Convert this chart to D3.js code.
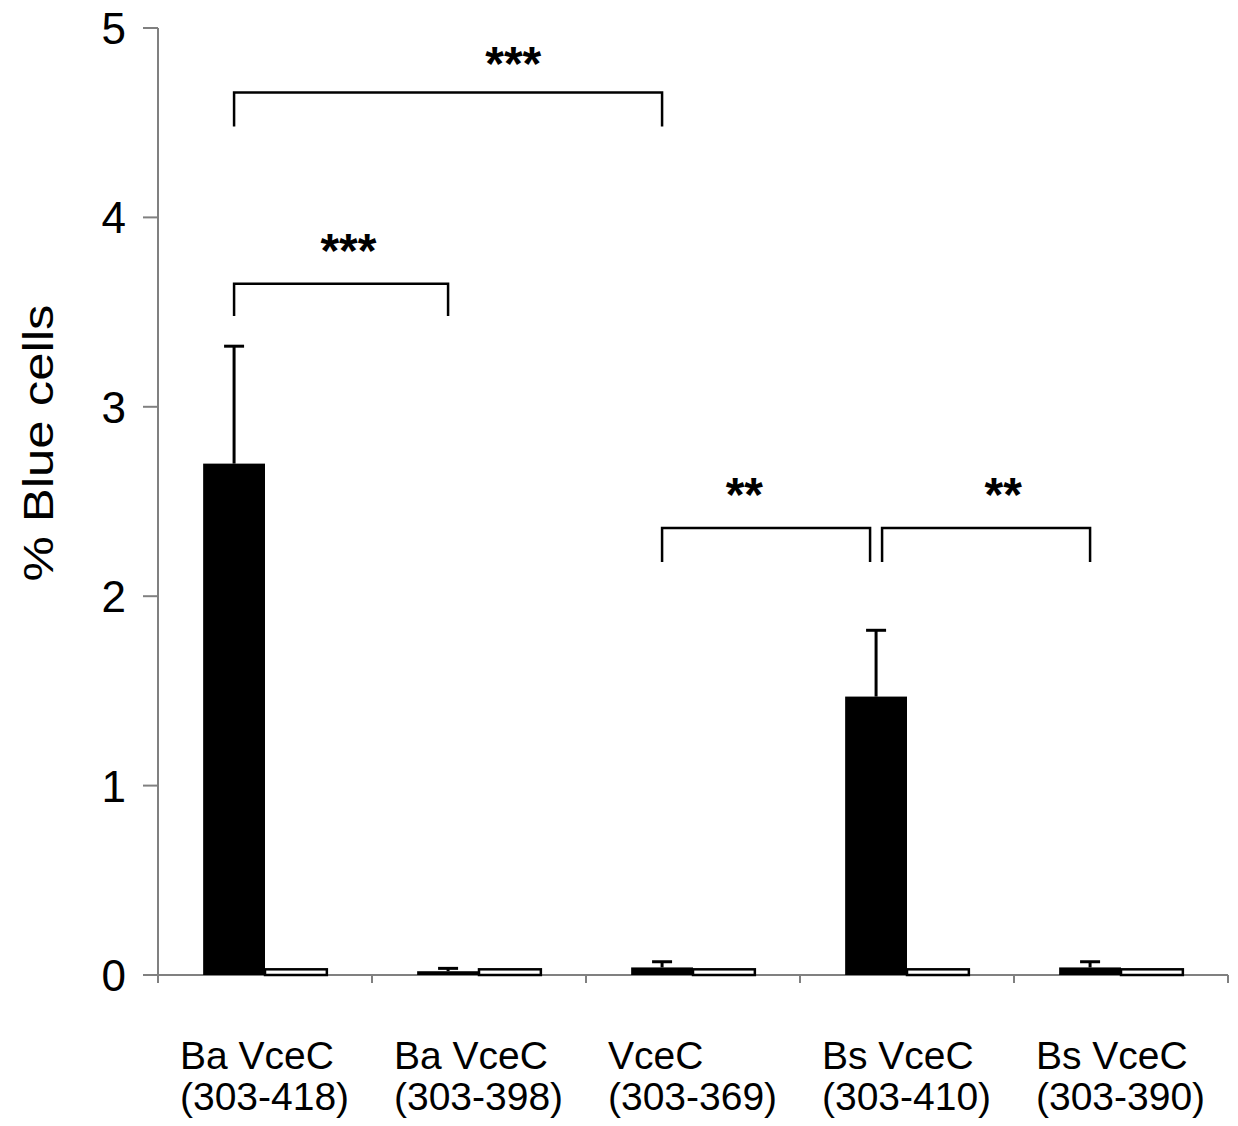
<!DOCTYPE html>
<html>
<head>
<meta charset="utf-8">
<script src="https://cdn.jsdelivr.net/npm/d3@7"></script>
<style>
  body { margin: 0; background: #fff; }
  text { font-family: "Liberation Sans", Arial, sans-serif; }
</style>
</head>
<body>
<script>
// categories (two label lines each)
var line1 = ["Ba VceC", "Ba VceC", "VceC", "Bs VceC", "Bs VceC"];
var line2 = ["(303-418)", "(303-398)", "(303-369)", "(303-410)", "(303-390)"];

// series values (% blue cells)
var blackVals = [2.70, 0.02, 0.04, 1.47, 0.04];
var blackErr  = [0.62, 0.015, 0.03, 0.35, 0.03];
var whiteVals = [0.03, 0.03, 0.03, 0.03, 0.03];

var yTicks = [0, 1, 2, 3, 4, 5];

// significance brackets: from/to category index, top and leg-end values
var brFrom  = [0, 0, 2, 3];
var brTo    = [2, 1, 3, 4];
var brTop   = [4.66, 3.65, 2.36, 2.36];
var brLeg   = [4.48, 3.48, 2.18, 2.18];
// stars: label, position in category index units, value
var starText = ["***", "***", "**", "**"];
var starPos  = [1.16, 0.39, 2.24, 3.45];
var starVal  = [4.87, 3.88, 2.59, 2.59];

var w = 1238, h = 1126;
var mLeft = 158, mRight = 1228, mTop = 28, mBottom = 975;

var svg = d3.select("body").append("svg")
    .attr("width", w)
    .attr("height", h);

var x = d3.scaleBand()
    .domain(d3.range(line1.length))
    .range([mLeft, mRight])
    .padding(0);

var xi = d3.scaleLinear()
    .domain([-0.5, line1.length - 0.5])
    .range([mLeft, mRight]);

var inner = d3.scaleBand()
    .domain(["black", "white"])
    .range([0, x.bandwidth()])
    .paddingInner(0)
    .paddingOuter(0.73);

var y = d3.scaleLinear()
    .domain([0, 5])
    .range([mBottom, mTop]);

// axes
var axisColor = "#808080";
svg.append("line")
    .attr("x1", mLeft).attr("x2", mLeft)
    .attr("y1", mTop).attr("y2", mBottom + 8)
    .attr("stroke", axisColor).attr("stroke-width", 2);
svg.append("line")
    .attr("x1", mLeft).attr("x2", mRight)
    .attr("y1", mBottom).attr("y2", mBottom)
    .attr("stroke", axisColor).attr("stroke-width", 2);

svg.selectAll(".ytick")
    .data(yTicks)
    .enter()
    .append("line")
    .attr("x1", mLeft - 15).attr("x2", mLeft)
    .attr("y1", function(d) { return y(d); })
    .attr("y2", function(d) { return y(d); })
    .attr("stroke", axisColor).attr("stroke-width", 2);

svg.selectAll(".ylab")
    .data(yTicks)
    .enter()
    .append("text")
    .text(function(d) { return d; })
    .attr("x", 126)
    .attr("y", function(d) { return y(d) + 16; })
    .attr("text-anchor", "end")
    .attr("font-size", "44px")
    .attr("fill", "#000");

svg.selectAll(".xtick")
    .data(d3.range(line1.length + 1))
    .enter()
    .append("line")
    .attr("x1", function(d) { return mLeft + d * x.step(); })
    .attr("x2", function(d) { return mLeft + d * x.step(); })
    .attr("y1", mBottom).attr("y2", mBottom + 8)
    .attr("stroke", axisColor).attr("stroke-width", 2);

// y axis title
svg.append("text")
    .text("%  Blue cells")
    .attr("transform", "translate(53,443) rotate(-90)")
    .attr("text-anchor", "middle")
    .attr("font-size", "42px")
    .attr("textLength", 277)
    .attr("lengthAdjust", "spacingAndGlyphs")
    .attr("fill", "#000");

// bars
svg.selectAll(".white")
    .data(whiteVals)
    .enter()
    .append("rect")
    .attr("x", function(d, i) { return x(i) + inner("white"); })
    .attr("y", function(d) { return y(d); })
    .attr("width", inner.bandwidth())
    .attr("height", function(d) { return mBottom - y(d); })
    .attr("fill", "#fff")
    .attr("stroke", "#000")
    .attr("stroke-width", 2.5);

// error bars (upper only)
function blackCenter(i) { return x(i) + inner("black") + inner.bandwidth() / 2; }

svg.selectAll(".err")
    .data(blackVals)
    .enter()
    .append("line")
    .attr("x1", function(d, i) { return blackCenter(i); })
    .attr("x2", function(d, i) { return blackCenter(i); })
    .attr("y1", function(d) { return y(d); })
    .attr("y2", function(d, i) { return y(d + blackErr[i]); })
    .attr("stroke", "#000").attr("stroke-width", 3);

svg.selectAll(".cap")
    .data(blackVals)
    .enter()
    .append("line")
    .attr("x1", function(d, i) { return blackCenter(i) - 10; })
    .attr("x2", function(d, i) { return blackCenter(i) + 10; })
    .attr("y1", function(d, i) { return y(d + blackErr[i]); })
    .attr("y2", function(d, i) { return y(d + blackErr[i]); })
    .attr("stroke", "#000").attr("stroke-width", 3);

svg.selectAll(".black")
    .data(blackVals)
    .enter()
    .append("rect")
    .attr("x", function(d, i) { return x(i) + inner("black"); })
    .attr("y", function(d) { return y(d); })
    .attr("width", inner.bandwidth())
    .attr("height", function(d) { return mBottom - y(d); })
    .attr("fill", "#000");

// x labels
svg.selectAll(".xl1")
    .data(line1)
    .enter()
    .append("text")
    .text(function(d) { return d; })
    .attr("x", function(d, i) { return x(i) + 22; })
    .attr("y", 1069)
    .attr("font-size", "39px")
    .attr("fill", "#000");

svg.selectAll(".xl2")
    .data(line2)
    .enter()
    .append("text")
    .text(function(d) { return d; })
    .attr("x", function(d, i) { return x(i) + 22; })
    .attr("y", 1110)
    .attr("font-size", "39px")
    .attr("fill", "#000");

// significance brackets
var gap = 6;
svg.selectAll(".bracket")
    .data(brFrom)
    .enter()
    .append("path")
    .attr("d", function(d, i) {
        var x1 = blackCenter(d), x2 = blackCenter(brTo[i]);
        // nudge apart brackets that meet at the same height
        brFrom.forEach(function(f, j) {
            if (j === i || brTop[j] !== brTop[i]) return;
            if (brTo[j] === d) x1 += gap;
            if (f === brTo[i]) x2 -= gap;
        });
        return "M" + x1 + "," + y(brLeg[i]) + "V" + y(brTop[i]) +
            "H" + x2 + "V" + y(brLeg[i]);
    })
    .attr("fill", "none")
    .attr("stroke", "#000")
    .attr("stroke-width", 2.5);

svg.selectAll(".stars")
    .data(starText)
    .enter()
    .append("text")
    .text(function(d) { return d; })
    .attr("x", function(d, i) { return xi(starPos[i]); })
    .attr("y", function(d, i) { return y(starVal[i]) + 27; })
    .attr("text-anchor", "middle")
    .attr("font-size", "48px")
    .attr("font-weight", "bold")
    .attr("fill", "#000");
</script>
</body>
</html>
